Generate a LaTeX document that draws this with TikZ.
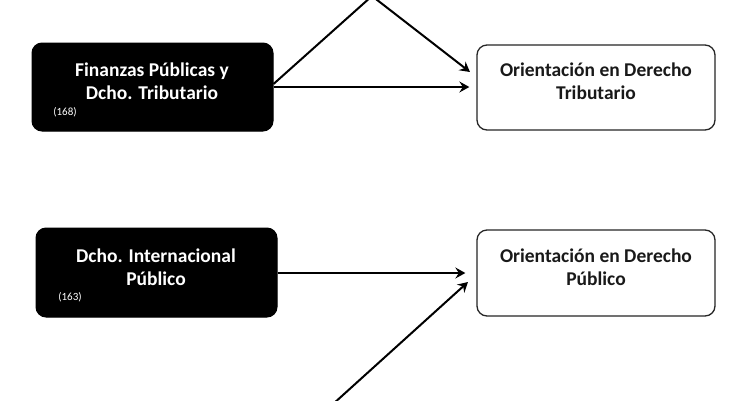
\documentclass[tikz,border=0pt]{standalone}
\usepackage{fontspec}
\setmainfont{Carlito}
\usetikzlibrary{arrows.meta}
\begin{document}
\begin{tikzpicture}[x=1pt,y=-1pt,
  darkbox/.style={draw=black,fill=black,rounded corners=10pt,line width=1pt,minimum width=241pt,minimum height=88pt,inner sep=0pt},
  lightbox/.style={draw=black!85,fill=white,rounded corners=10pt,line width=1.3pt,minimum width=238pt,minimum height=85pt,inner sep=0pt},
  wtext/.style={text=white,font=\bfseries\fontsize{19.5}{23}\selectfont,align=center,inner sep=0pt},
  btext/.style={text=black!90,font=\bfseries\fontsize{19.5}{23}\selectfont,align=center,inner sep=0pt},
  smalltext/.style={text=white,font=\fontsize{11}{12}\selectfont,inner sep=0pt},
  conn/.style={draw=black,line width=2pt,-{Stealth[length=10pt,width=11pt,inset=3.5pt]}},
  plain/.style={draw=black,line width=2pt}]
\useasboundingbox (0,0) rectangle (750,400);
\clip (0,0) rectangle (750,400);
\fill[white] (0,0) rectangle (750,400);
% boxes
\node[darkbox] (fin) at (152.5,87) {};
\node[wtext] (finT) at (152,81.5) {Finanzas Públicas y\\Dcho. Tributario};
\node[smalltext] (finN) at (65,112) {(168)};
\node[lightbox] (tri) at (596,87.5) {};
\node[btext] (triT) at (596,81.5) {Orientación en Derecho\\Tributario};
\node[darkbox,minimum height=89pt] (dip) at (156.5,272.5) {};
\node[wtext] (dipT) at (156,267) {Dcho. Internacional\\Público};
\node[smalltext] (dipN) at (70,297) {(163)};
\node[lightbox,minimum height=86pt] (pub) at (596,273) {};
\node[btext] (pubT) at (596,267) {Orientación en Derecho\\Público};
% off-frame junctions
\coordinate (top) at (372,-4);
\coordinate (bot) at (322,414);
\coordinate (triIn1) at (470,72);
\coordinate (pubIn2) at (468,282);
% connectors
\draw[plain] (fin.east) ++(0,-3) -- (top);
\draw[conn] (top) -- (triIn1);
\draw[conn] (fin.east) -- ([xshift=-7pt]tri.west |- fin.east);
\draw[conn] ([yshift=-0.5pt]dip.east) -- ([xshift=-11pt,yshift=-0.5pt]pub.west |- dip.east);
\draw[conn] (bot) -- (pubIn2);
\end{tikzpicture}
\end{document}
